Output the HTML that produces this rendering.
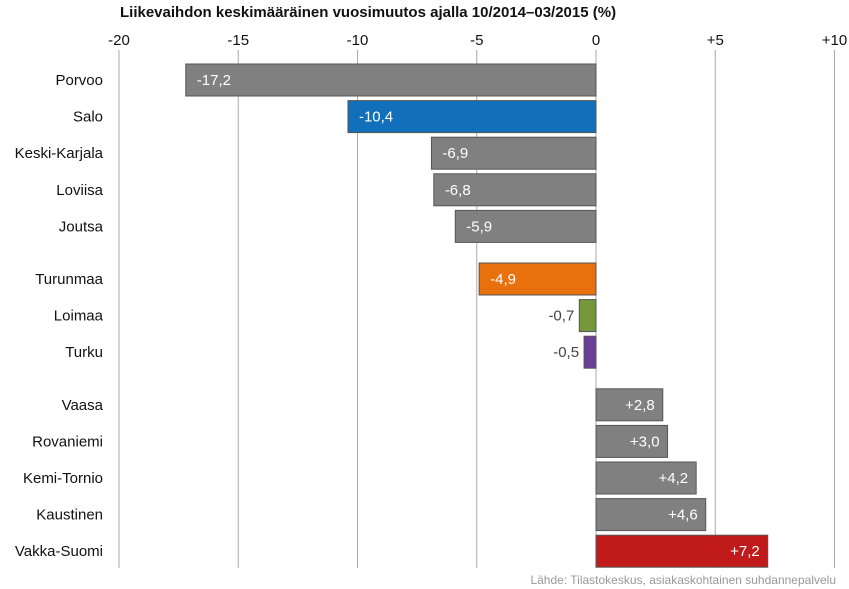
<!DOCTYPE html>
<html><head><meta charset="utf-8"><style>
body{margin:0;background:#fff;}
svg{display:block;font-family:"Liberation Sans",sans-serif;}
</style></head><body>
<svg id="chart" width="849" height="589" xmlns="http://www.w3.org/2000/svg">
<text x="120" y="17" font-size="15" font-weight="bold" fill="#111">Liikevaihdon keskimääräinen vuosimuutos ajalla 10/2014–03/2015 (%)</text>
<text x="836" y="584" font-size="12" fill="#999" text-anchor="end">Lähde: Tilastokeskus, asiakaskohtainen suhdannepalvelu</text>
</svg>
<script>
const categories=["Porvoo","Salo","Keski-Karjala","Loviisa","Joutsa","Turunmaa","Loimaa","Turku","Vaasa","Rovaniemi","Kemi-Tornio","Kaustinen","Vakka-Suomi"];
const values=[-17.2,-10.4,-6.9,-6.8,-5.9,-4.9,-0.7,-0.5,2.8,3.0,4.2,4.6,7.2];
const groups=[0,0,0,0,0,1,1,1,2,2,2,2,2];
const barColors=["#808080","#1170b9","#808080","#808080","#808080","#e8700d","#76983a","#6b3e98","#808080","#808080","#808080","#808080","#c01a1a"];
const tickValues=[-20,-15,-10,-5,0,5,10];
const tickLabels=["-20","-15","-10","-5","±0","+5","+10"];
const NS="http://www.w3.org/2000/svg";
const svg=document.getElementById("chart");
const x=v=>596+v*23.85;
const y=i=>80+i*36.6+groups[i]*16;
function mk(t,a){const e=document.createElementNS(NS,t);for(const k in a)e.setAttribute(k,a[k]);svg.appendChild(e);return e;}
tickValues.forEach((t,k)=>{
 const g=mk("line",{x1:x(t),x2:x(t),y1:50,y2:568,stroke:"#aaa","stroke-width":1});
 
 
 const tl=mk("text",{x:x(t),y:45,"font-size":15,fill:"#111","text-anchor":"middle"});
 tl.textContent=tickLabels[k].replace("±","");
 
 
});
values.forEach((v,i)=>{
 const cy=y(i);
 const x0=Math.min(x(0),x(v)),w=Math.abs(x(v)-x(0));
 const b=mk("rect",{x:x0,y:cy-16,width:w,height:32,fill:barColors[i],stroke:"#555","stroke-width":1});
 
 
 const c=mk("text",{x:103,y:cy+5,"font-size":15,fill:"#111","text-anchor":"end"});
 c.textContent=categories[i];
 
 
 const s=(v>0?"+":"")+v.toFixed(1).replace(".",",");
 let lx,anchor,fill;
 if(w<40){lx=x0-5;anchor="end";fill="#444";}
 else if(v<0){lx=x0+11;anchor="start";fill="#fff";}
 else{lx=x(v)-8;anchor="end";fill="#fff";}
 const vl=mk("text",{x:lx,y:cy+5,"font-size":15,fill:fill,"text-anchor":anchor});
 vl.textContent=s;
 
 
});
</script>
</body></html>
